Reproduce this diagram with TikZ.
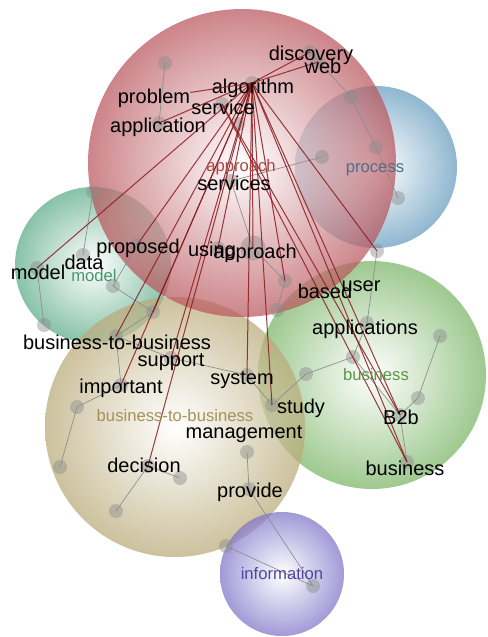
\documentclass[tikz,border=0pt]{standalone}
\usepackage{fontspec}
\setmainfont{Liberation Sans}
\usepackage{tikz}
\usetikzlibrary{positioning}

\definecolor{bubRed}{RGB}{185,85,92}
\definecolor{bubBlue}{RGB}{100,155,190}
\definecolor{bubTeal}{RGB}{90,170,135}
\definecolor{bubGreen}{RGB}{120,180,100}
\definecolor{bubTan}{RGB}{185,170,120}
\definecolor{bubPurple}{RGB}{125,115,200}
\definecolor{linkRed}{RGB}{140,25,30}

\begin{document}
\begin{tikzpicture}[x=0.75pt, y=-0.75pt,
    bubble/.style={inner color=white, fill opacity=0.72},
    dot/.style={circle, fill=black!45, fill opacity=0.45, inner sep=0pt, minimum size=10.5pt},
    bigdot/.style={dot, minimum size=19pt},
    word/.style={font=\fontsize{15}{17}\selectfont, text=black, inner sep=0pt},
    tag/.style={font=\fontsize{12.5}{14}\selectfont, inner sep=0pt},
    link/.style={draw=black!45, line width=0.5pt},
    hit/.style={draw=linkRed, line width=0.75pt, opacity=0.85}]
  \useasboundingbox (0,0) rectangle (487,637);

  % Bolle
  \shade[bubble, outer color=bubBlue] (376,167) circle (81);
  \shade[bubble, outer color=bubTeal] (93,265) circle (78);
  \shade[bubble, outer color=bubGreen] (372,375) circle (114);
  \shade[bubble, outer color=bubTan] (175,427) circle (130);
  \shade[bubble, outer color=bubPurple] (282,574) circle (62);
  \shade[bubble, outer color=bubRed] (242,163) circle (154);

  % Nodi
  \node (alg) at (252,83) [dot] {};
  \node (disc) at (310,52) [dot] {};
  \node (web) at (318,62) [dot] {};
  \node (tl) at (165,63) [dot] {};
  \node (appl) at (159,123) [dot] {};
  \node (serv) at (222,104) [dot] {};
  \node (serv2) at (238,124) [dot] {};
  \node (svcs) at (231,181) [dot] {};
  \node (proc) at (322,157) [dot] {};
  \node (bl1) at (351,97) [dot] {};
  \node (bl2) at (376,147) [dot] {};
  \node (bl3) at (398,198) [dot] {};
  \node (tm1) at (93,192) [dot] {};
  \node (data) at (83,255) [dot] {};
  \node (mod) at (37,268) [dot] {};
  \node (tm2) at (44,325) [dot] {};
  \node (tm3) at (113,286) [dot] {};
  \node (prop) at (137,245) [dot] {};
  \node (tm4) at (153,312) [dot] {};
  \node (using) at (218,248) [dot] {};
  \node (appr) at (253,248) [bigdot] {};
  \node (gr1) at (285,281) [dot] {};
  \node (gr2) at (277,310) [dot] {};
  \node (user) at (377,251) [dot] {};
  \node (apps) at (367,323) [dot] {};
  \node (gr3) at (353,357) [dot] {};
  \node (gr4) at (306,374) [dot] {};
  \node (gr5) at (440,336) [dot] {};
  \node (gr6) at (418,398) [dot] {};
  \node (btwob) at (400,415) [dot] {};
  \node (bus) at (407,462) [dot] {};
  \node (study) at (272,405) [dot] {};
  \node (sys) at (247,375) [dot] {};
  \node (btb) at (116,336) [dot] {};
  \node (supp) at (171,358) [dot] {};
  \node (imp) at (121,385) [dot] {};
  \node (tn1) at (77,407) [dot] {};
  \node (tn2) at (60,467) [dot] {};
  \node (dec) at (148,466) [dot] {};
  \node (tn3) at (180,478) [dot] {};
  \node (tn4) at (116,511) [dot] {};
  \node (mgmt) at (247,452) [dot] {};
  \node (prov) at (249,489) [dot] {};
  \node (inf1) at (226,546) [dot] {};
  \node (inf2) at (313,586) [dot] {};

  % Collegamenti grigi
  \draw[link] (tl.center) -- (appl.center);
  \draw[link] (disc.center) -- (bl1.center) -- (bl2.center) -- (bl3.center);
  \draw[link] (proc.center) -- (svcs.center);
  \draw[link] (svcs.center) -- (appr.center) -- (gr1.center) -- (gr2.center);
  \draw[link] (user.center) -- (apps.center) -- (gr3.center) -- (gr4.center) -- (study.center);
  \draw[link] (gr3.center) -- (btwob.center) -- (bus.center);
  \draw[link] (gr5.center) -- (gr6.center) -- (btwob.center);
  \draw[link] (tm1.center) -- (data.center);
  \draw[link] (mod.center) -- (tm2.center);
  \draw[link] (prop.center) -- (tm3.center) -- (tm4.center) -- (btb.center);
  \draw[link] (btb.center) -- (imp.center) -- (tn1.center) -- (tn2.center);
  \draw[link] (btb.center) -- (supp.center) -- (sys.center) -- (study.center);
  \draw[link] (tn3.center) -- (dec.center) -- (tn4.center);
  \draw[link] (mgmt.center) -- (prov.center) -- (inf2.center) -- (inf1.center);

  % Collegamenti rossi
  \foreach \n in {disc, web, appl, mod, prop, tm4, btb, imp, supp, dec, using, appr, sys, study, gr1, user, btwob, bus}
    \draw[hit] (alg.center) -- (\n.center);
  \draw[hit] (serv.center) -- (btwob.center);
  \draw[hit] (serv.center) -- (bus.center);

  % Parole
  \node (discT) at (311,55) [word] {discovery};
  \node (webT) at (323,66) [word] {web};
  \node (algT) at (253,88) [word] {algorithm};
  \node (probT) at (154,98) [word] {problem};
  \node (servT) at (223,107) [word] {service};
  \node (applT) at (158,127) [word] {application};
  \node (svcsT) at (234,183) [word] {services};
  \node (propT) at (138,248) [word] {proposed};
  \node (usingT) at (212,251) [word] {using};
  \node (apprT) at (255,253) [word] {approach};
  \node (modT) at (38,272) [word] {model};
  \node (dataT) at (84,262) [word] {data};
  \node (basedT) at (325,291) [word] {based};
  \node (userT) at (361,286) [word] {user};
  \node (appsT) at (365,329) [word] {applications};
  \node (btwobT) at (401,417) [word] {B2b};
  \node (busT) at (405,468) [word] {business};
  \node (btbT) at (117,342) [word] {business-to-business};
  \node (suppT) at (171,362) [word] {support};
  \node (impT) at (121,388) [word] {important};
  \node (sysT) at (242,380) [word] {system};
  \node (studyT) at (301,408) [word] {study};
  \node (mgmtT) at (244,434) [word] {management};
  \node (decT) at (144,465) [word] {decision};
  \node (provT) at (250,492) [word] {provide};
  \draw[hit] (alg.center) -- (probT);

  % Etichette dei gruppi
  \node (gRed) at (241,167) [tag, text={rgb,255:red,170;green,70;blue,72}] {approach};
  \node (gBlue) at (375,170) [tag, text={rgb,255:red,80;green,110;blue,140}] {process};
  \node (gTeal) at (94,276) [tag, text={rgb,255:red,70;green,150;blue,110}] {model};
  \node (gGreen) at (376,375) [tag, text={rgb,255:red,90;green,150;blue,70}] {business};
  \node (gTan) at (175,416) [tag, text={rgb,255:red,165;green,145;blue,90}] {business-to-business};
  \node (gPurple) at (282,574) [tag, text={rgb,255:red,80;green,70;blue,160}] {information};
\end{tikzpicture}
\end{document}
